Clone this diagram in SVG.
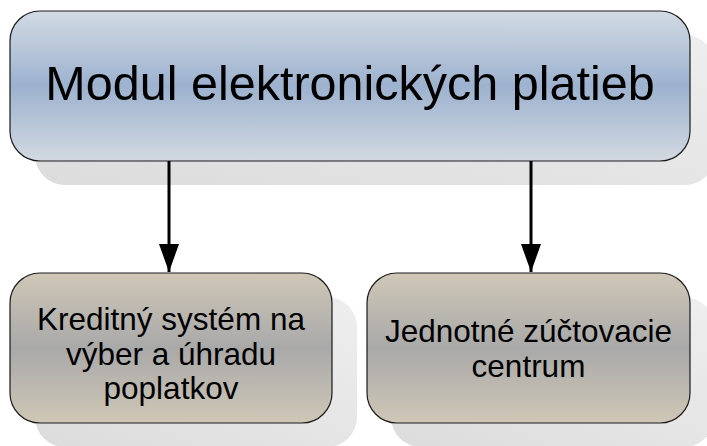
<svg xmlns="http://www.w3.org/2000/svg" width="707" height="446" viewBox="0 0 707 446">
  <defs>
    <linearGradient id="blueFill" x1="0" y1="0" x2="0" y2="1">
      <stop offset="0" stop-color="#d2dae4"/>
      <stop offset="0.5" stop-color="#9db2cf"/>
      <stop offset="1" stop-color="#d2d9e1"/>
    </linearGradient>
    <linearGradient id="tanFill" x1="0" y1="0" x2="0" y2="1">
      <stop offset="0" stop-color="#cfc7b7"/>
      <stop offset="0.5" stop-color="#a9a9a9"/>
      <stop offset="1" stop-color="#cfc7b6"/>
    </linearGradient>
    <linearGradient id="shadowFill" x1="0" y1="1" x2="1" y2="0">
      <stop offset="0" stop-color="#dcdcdc"/>
      <stop offset="1" stop-color="#eeeeee"/>
    </linearGradient>
    <marker id="arrowHead" markerUnits="userSpaceOnUse" markerWidth="30" markerHeight="22" refX="28" refY="10" orient="auto">
      <path d="M0,0 L28,10 L0,20 Z" fill="#000"/>
    </marker>
  </defs>
  <style>
    .shadow { fill: url(#shadowFill); stroke: none; }
    .box { stroke: #1a1a1a; stroke-width: 1.2; }
    .blue { fill: url(#blueFill); }
    .tan { fill: url(#tanFill); }
    .label { font-family: "Liberation Sans", Arial, sans-serif; fill: #000; text-anchor: middle; }
    .conn { stroke: #000; stroke-width: 3; fill: none; }
  </style>

  <g id="node-modul">
    <rect class="shadow" x="35" y="35" width="680" height="150" rx="30" ry="30"/>
    <rect class="box blue" x="10" y="11" width="680" height="150" rx="30" ry="30"/>
    <text class="label" x="350" y="100" font-size="48.5">Modul elektronických platieb</text>
  </g>

  <g id="node-kreditny">
    <rect class="shadow" x="35" y="297" width="322" height="150" rx="30" ry="30"/>
    <rect class="box tan" x="10" y="273" width="322" height="150" rx="30" ry="30"/>
    <text class="label" x="171" y="330" font-size="31.5">Kreditný systém na</text>
    <text class="label" x="171" y="365" font-size="31.5">výber a úhradu</text>
    <text class="label" x="171" y="399" font-size="31.5">poplatkov</text>
  </g>

  <g id="node-jednotne">
    <rect class="shadow" x="391" y="297" width="323" height="150" rx="30" ry="30"/>
    <rect class="box tan" x="367" y="273" width="323" height="150" rx="30" ry="30"/>
    <text class="label" x="528.5" y="342" font-size="31.5">Jednotné zúčtovacie</text>
    <text class="label" x="528.5" y="377" font-size="31.5">centrum</text>
  </g>

  <g id="connectors">
    <line class="conn" x1="169" y1="161" x2="169" y2="272" marker-end="url(#arrowHead)"/>
    <line class="conn" x1="531" y1="161" x2="531" y2="272" marker-end="url(#arrowHead)"/>
  </g>
</svg>
